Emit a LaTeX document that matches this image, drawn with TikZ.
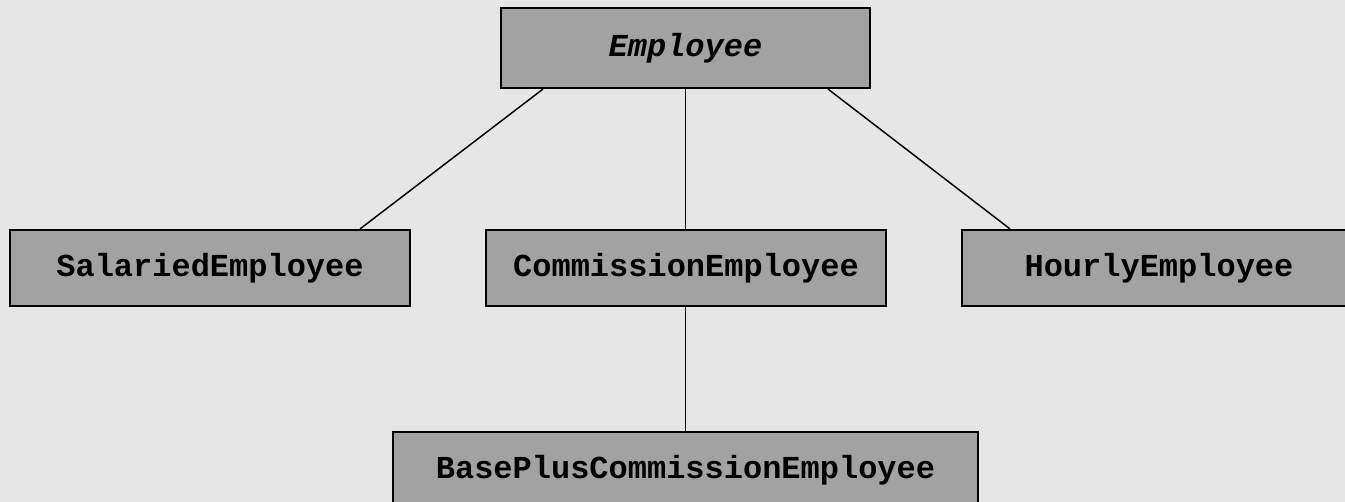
\documentclass[tikz,border=0pt]{standalone}
\usepackage{fontspec}
\setmonofont{Liberation Mono}
\usetikzlibrary{calc}
\definecolor{canvas}{HTML}{E6E6E6}
\definecolor{boxfill}{HTML}{A2A2A2}
\tikzset{
  classbox/.style={draw=black, line width=1.6pt, fill=boxfill, rectangle,
    inner sep=0pt, minimum height=57pt,
    font=\fontsize{24}{28}\selectfont\ttfamily\bfseries},
  link/.style={draw=black, line width=1.1pt}
}
\begin{document}
\begin{tikzpicture}[x=0.75pt, y=-0.75pt]
  \useasboundingbox (0,0) rectangle (1345,502);
  \fill[canvas] (0,0) rectangle (1345,502);
  \clip (0,0) rectangle (1345,502);

  % class boxes (coordinates in pixels, y grows downward)
  \node[classbox, minimum width=276.75pt, minimum height=60pt] (emp) at (685.5,48)
    {\itshape Employee};
  \node[classbox, minimum width=300.4pt] (sal) at (210,268) {SalariedEmployee};
  \node[classbox, minimum width=300pt] (com) at (686,268) {CommissionEmployee};
  \node[classbox, minimum width=295.5pt] (hour) at (1159,268) {HourlyEmployee};
  \node[classbox, minimum width=438.75pt] (base) at (685.5,470)
    {BasePlusCommissionEmployee};

  % inheritance links
  \draw[link] ($(emp.south)+(-142.5,0)$) -- ($(sal.north)+(150,0)$);
  \draw[link] (emp.south) -- (emp.south |- com.north);
  \draw[link] ($(emp.south)+(142.5,0)$) -- ($(hour.north)+(-149,0)$);
  \draw[link] (emp.south |- com.south) -- (emp.south |- base.north);
\end{tikzpicture}
\end{document}
